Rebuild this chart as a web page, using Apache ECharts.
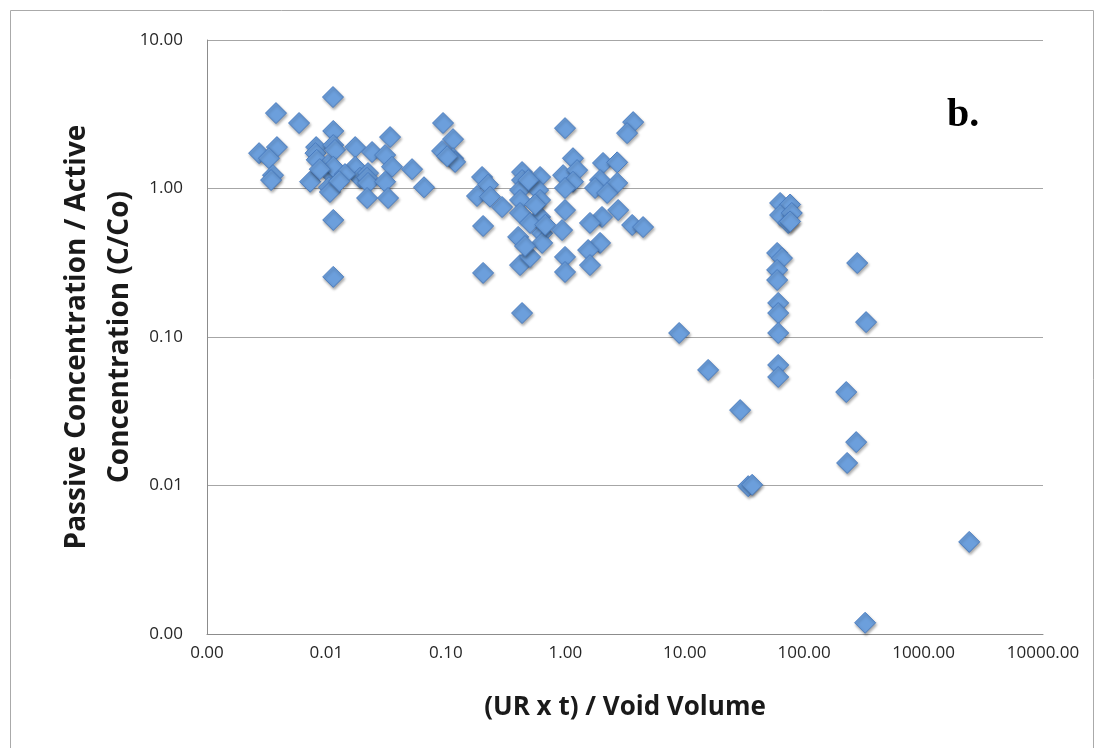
<!DOCTYPE html>
<html><head><meta charset="utf-8">
<script src="https://cdn.jsdelivr.net/npm/echarts@6/dist/echarts.min.js"></script>
<style>html,body{margin:0;padding:0;background:#fff}#c{width:1102px;height:748px}</style>
</head><body><div id="c"></div>
<script>
const xValues = [0.00273,0.00378,0.00385,0.0033,0.00357,0.00344,0.0059,0.0073,0.0082,0.0081,0.0083,0.01135,0.0114,0.0114,0.0118,0.0103,0.0107,0.0114,0.0105,0.0107,0.0114,0.0114,0.0174,0.0174,0.0191,0.0241,0.0223,0.0219,0.0223,0.0219,0.0341,0.031,0.0354,0.031,0.0328,0.0521,0.0656,0.0088,0.0143,0.0128,
0.0947,0.1148,0.093,0.1148,0.1195,0.1025,
0.201,0.2255,0.1823,0.2344,0.2956,0.205,0.205,0.4345,0.4345,0.4345,0.615,0.418,0.592,0.418,0.615,0.418,0.615,0.507,0.403,0.64,0.64,0.418,0.507,0.49,0.56,0.46,0.68,
0.995,1.16,0.959,1.256,1.16,0.995,0.995,0.94,0.995,0.995,2.07,2.72,1.955,2.72,1.776,2.24,2.77,2.03,1.61,3.63,4.48,1.955,1.553,1.61,3.70,3.29,
8.98,15.7,29.1,34.0,36.7,
62.9,76.3,62.9,78.8,73.5,76.3,59.4,65.2,59.4,59.4,60.6,60.6,60.6,60.6,60.6,
278,330,225,272.6,229,324,2410];
const yValues = [1.73,3.22,1.90,1.60,1.23,1.14,2.76,1.11,1.90,1.73,1.56,4.13,2.44,1.96,1.82,1.44,1.27,1.40,1.02,0.947,0.614,0.254,1.90,1.40,1.18,1.76,1.27,1.18,1.09,0.863,2.22,1.68,1.40,1.11,0.863,1.35,1.02,1.35,1.25,1.12,
2.76,2.15,1.79,1.60,1.51,1.65,
1.195,1.06,0.89,0.88,0.75,0.559,0.27,0.145,1.29,1.14,1.195,0.977,0.977,0.837,0.837,0.684,0.643,0.586,0.472,0.50,0.43,0.305,0.346,1.14,0.78,0.41,0.57,
2.55,1.60,1.23,1.33,1.11,1.008,0.716,0.525,0.346,0.274,1.485,1.50,1.14,1.09,1.008,0.933,0.716,0.643,0.586,0.568,0.55,0.43,0.385,0.305,2.80,2.36,
0.1064,0.060,0.0322,0.0099,0.0101,
0.799,0.78,0.663,0.684,0.586,0.60,0.368,0.34,0.283,0.242,0.1695,0.145,0.1064,0.0648,0.0538,
0.315,0.126,0.0426,0.0196,0.01418,0.00119,0.00417];
const xTitle = '(UR x t) / Void Volume';
const yTitle = 'Passive Concentration / Active\nConcentration (C/Co)';
const panelLabel = 'b.';

const pts = xValues.map((x,i)=>[x,yValues[i]]);
const chart = echarts.init(document.getElementById('c'));
const fam = '"Open Sans","Noto Sans",sans-serif';
chart.setOption({
  animation:false,
  graphic:[
    {type:'rect',shape:{x:10.5,y:10.5,width:1083,height:760},style:{fill:'none',stroke:'#aaa',lineWidth:1}},
    {type:'text',left:947,top:96,style:{text:panelLabel,font:'bold 40px "Liberation Serif","DejaVu Serif",serif',fill:'#000'}}
  ],
  grid:{left:207,right:59,top:40,bottom:114},
  xAxis:{type:'log',logBase:10,min:0.001,max:10000,splitNumber:7,
    axisLine:{show:true,lineStyle:{color:'#8c8c8c',width:1}},axisTick:{show:false},
    splitLine:{show:false},
    axisLabel:{formatter:v=>v.toFixed(2),fontFamily:fam,fontSize:17,color:'#262626',margin:11},
    name:xTitle,nameLocation:'middle',nameGap:61,
    nameTextStyle:{fontFamily:fam,fontWeight:'bold',fontSize:26,color:'#1a1a1a'}},
  yAxis:{type:'log',logBase:10,min:0.001,max:10,splitNumber:4,
    axisLine:{show:true,lineStyle:{color:'#8c8c8c',width:1}},axisTick:{show:false},
    splitLine:{show:true,lineStyle:{color:'#a6a6a6',width:1}},
    axisLabel:{formatter:v=>v.toFixed(2),fontFamily:fam,fontSize:17,color:'#262626',margin:24},
    name:yTitle,nameLocation:'middle',nameGap:65,nameMoveOverlap:false,
    nameTextStyle:{fontFamily:fam,fontWeight:'bold',fontSize:28,color:'#1a1a1a',lineHeight:43}},
  series:[{type:'scatter',data:pts,symbol:'diamond',symbolSize:21,
    itemStyle:{color:'#6c9fdc',borderColor:'#4a7cbf',borderWidth:1,opacity:1,
      shadowBlur:3,shadowColor:'rgba(0,0,0,0.35)',shadowOffsetX:1,shadowOffsetY:2}}]
});
</script></body></html>
